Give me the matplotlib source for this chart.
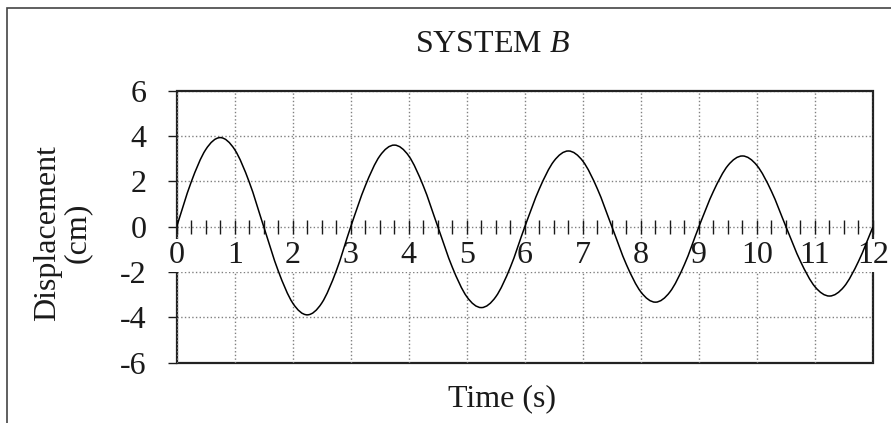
import numpy as np
import matplotlib
matplotlib.use("Agg")
import matplotlib.pyplot as plt
from matplotlib.path import Path
from matplotlib.patches import PathPatch, Rectangle
from matplotlib.ticker import MultipleLocator

# Sampled displacement of system B, every 0.25 s
time = np.arange(0, 12.01, 0.25)
displacement = [
    0.00, 1.97, 3.40, 3.93, 3.40, 1.97,
    0.00, -1.95, -3.37, -3.89, -3.37, -1.95,
    0.00, 1.80, 3.12, 3.60, 3.12, 1.80,
    0.00, -1.79, -3.09, -3.57, -3.09, -1.79,
    0.00, 1.67, 2.89, 3.34, 2.89, 1.67,
    0.00, -1.67, -2.88, -3.33, -2.88, -1.67,
    0.00, 1.56, 2.70, 3.12, 2.70, 1.56,
    0.00, -1.53, -2.65, -3.06, -2.65, -1.53,
    0.00,
]
x_ticks = list(range(0, 13))
y_ticks = [-6, -4, -2, 0, 2, 4, 6]

FONT_SIZE = 23
INK = "#1a1a1a"

plt.rcParams["font.family"] = "Liberation Serif"
plt.rcParams["mathtext.fontset"] = "custom"
plt.rcParams["mathtext.rm"] = "Liberation Serif"
plt.rcParams["mathtext.it"] = "Liberation Serif:italic"


def smooth_path(x, y):
    """Catmull-Rom curve through the samples, as cubic Bezier segments."""
    pts = np.column_stack([x, y])
    padded = np.vstack([pts[0], pts, pts[-1]])
    verts = [pts[0]]
    codes = [Path.MOVETO]
    for i in range(len(pts) - 1):
        p0, p1, p2, p3 = padded[i], padded[i + 1], padded[i + 2], padded[i + 3]
        verts += [p1 + (p2 - p0) / 6, p2 - (p3 - p1) / 6, p2]
        codes += [Path.CURVE4] * 3
    return Path(verts, codes)


fig = plt.figure(figsize=(8.91, 4.23), dpi=100)
ax = fig.add_axes([0.1983, 0.1426, 0.7815, 0.643])
ax.set_xlim(0, 12)
ax.set_ylim(-6, 6)

# outer border of the whole chart
fig.patches.append(Rectangle((0.0075, -0.2), 1.3, 0.981 + 0.2, transform=fig.transFigure,
                             fill=False, lw=1.2, edgecolor="#444444"))

# plot area frame (drawn under the tick labels so their boxes cut it)
for s in ax.spines.values():
    s.set_visible(False)
ax.add_patch(Rectangle((0, 0), 1, 1, transform=ax.transAxes, fill=False,
                       lw=1.6, edgecolor="#222222", zorder=1.4, clip_on=False))

# time axis runs through zero with crossing ticks every 0.25 s
ax.spines["bottom"].set_position(("data", 0))
ax.set_xticks(x_ticks)
ax.xaxis.set_minor_locator(MultipleLocator(0.25))
ax.tick_params(axis="x", which="both", direction="inout", length=10.5, width=1,
               color=INK, top=False, labelsize=FONT_SIZE, labelcolor=INK, pad=5)
for lbl in ax.get_xticklabels():
    lbl.set_bbox(dict(boxstyle="square,pad=0.06", facecolor="white", edgecolor="none"))

ax.set_yticks(y_ticks)
ax.set_yticklabels([str(v) for v in y_ticks])
ax.tick_params(axis="y", direction="out", length=6.5, width=1, color=INK,
               right=False, labelsize=FONT_SIZE, labelcolor=INK, pad=15)

ax.grid(True, which="major", color="#808080", linestyle=":", linewidth=1)
ax.xaxis.set_zorder(1.6)
ax.yaxis.set_zorder(1.2)

ax.add_patch(PathPatch(smooth_path(time, displacement), fill=False,
                       lw=1.1, edgecolor="black", zorder=3))

fig.text(0.5533, 0.877, "SYSTEM $B$", ha="center", va="baseline",
         fontsize=FONT_SIZE, color=INK)
fig.text(0.070, 0.449, "Displacement\n(cm)", rotation=90, ha="center", va="center",
         multialignment="center", linespacing=1.0, fontsize=FONT_SIZE, color=INK)
fig.text(0.5634, 0.040, "Time (s)", ha="center", va="baseline",
         fontsize=FONT_SIZE, color=INK)

fig.savefig("out.png", dpi=100)
